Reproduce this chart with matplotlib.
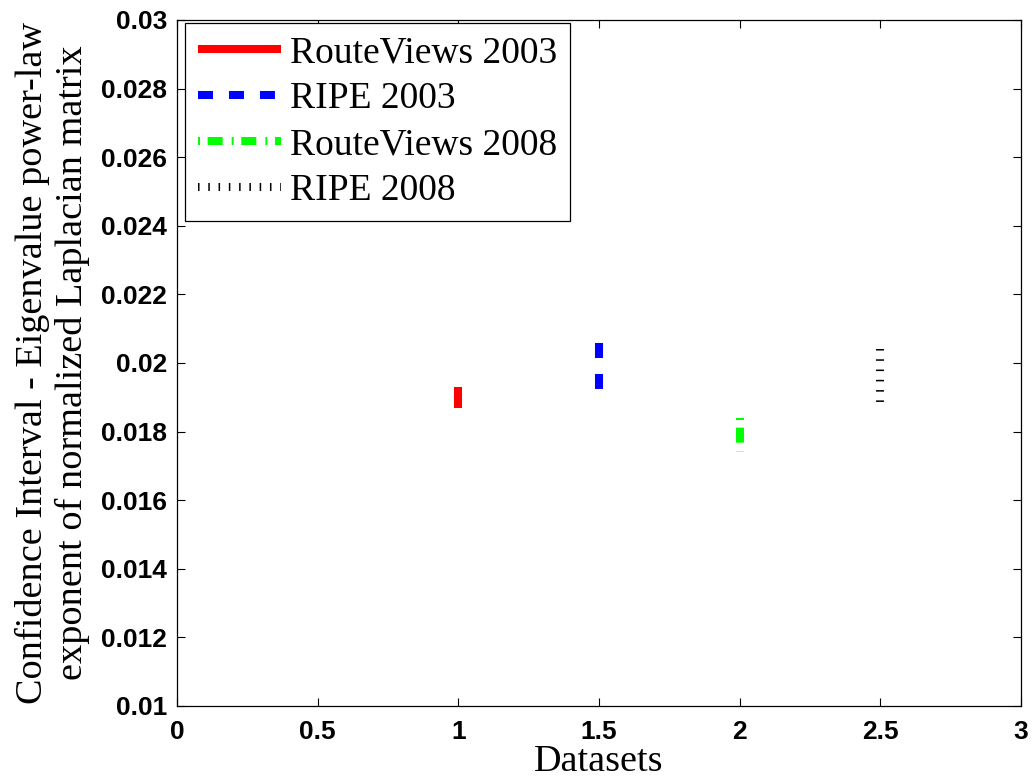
import matplotlib
matplotlib.use('Agg')
import matplotlib.pyplot as plt

# dataset positions and confidence interval bounds
datasets = ['RouteViews 2003', 'RIPE 2003', 'RouteViews 2008', 'RIPE 2008']
x_pos = [1.0, 1.5, 2.0, 2.5]
ci_low = [0.01870, 0.01921, 0.01741, 0.01886]
ci_high = [0.01931, 0.02059, 0.01840, 0.02041]

colors = ['#ff0000', '#0000ff', '#00ff00', '#000000']
styles = ['-', (0, (10.8, 11.5)), (0, (1.44, 5.5, 10.8, 6.5)), (0, (1.1, 6.3))]

plt.rcParams['lines.scale_dashes'] = False

fig = plt.figure(figsize=(10.32, 7.80), dpi=100)
ax = fig.add_axes([0.1715, 0.0949, 0.8178, 0.8795])

for i in range(len(x_pos)):
    # draw from top to bottom so the dash pattern starts at the upper end
    ax.plot([x_pos[i], x_pos[i]], [ci_high[i], ci_low[i]],
            color=colors[i], linestyle=styles[i], linewidth=5.8,
            solid_capstyle='butt', dash_capstyle='butt', label=datasets[i])

ax.set_xlim(0, 3)
ax.set_ylim(0.01, 0.03)
ax.set_xticks([0, 0.5, 1, 1.5, 2, 2.5, 3])
ax.set_xticklabels(['0', '0.5', '1', '1.5', '2', '2.5', '3'])
ax.set_yticks([0.01 + 0.002 * k for k in range(11)])
ax.set_yticklabels(['0.01', '0.012', '0.014', '0.016', '0.018', '0.02',
                    '0.022', '0.024', '0.026', '0.028', '0.03'])

for lab in ax.get_xticklabels() + ax.get_yticklabels():
    lab.set_fontfamily('Liberation Sans')
    lab.set_fontweight('bold')
    lab.set_fontsize(19)

ax.tick_params(direction='in', length=5.5, width=0.8, top=True, right=True)
ax.tick_params(axis='x', pad=10)
ax.tick_params(axis='y', pad=7)
for sp in ax.spines.values():
    sp.set_linewidth(0.9)

ax.set_xlabel('Datasets', fontfamily='Liberation Serif', fontsize=27.5, labelpad=0.5)
ax.set_ylabel('Confidence Interval - Eigenvalue power-law\nexponent of normalized Laplacian matrix',
              fontfamily='Liberation Serif', fontsize=27.5, labelpad=8, linespacing=1.18)

leg = ax.legend(loc='upper left', bbox_to_anchor=(0.0095, 0.9956), borderaxespad=0,
                prop={'family': 'Liberation Serif', 'size': 27},
                handlelength=2.2, handletextpad=0.25, borderpad=0.35,
                labelspacing=0.3, fancybox=False, framealpha=1)
leg.get_frame().set_edgecolor('black')
leg.get_frame().set_linewidth(0.9)

fig.savefig('out.png', dpi=100)
